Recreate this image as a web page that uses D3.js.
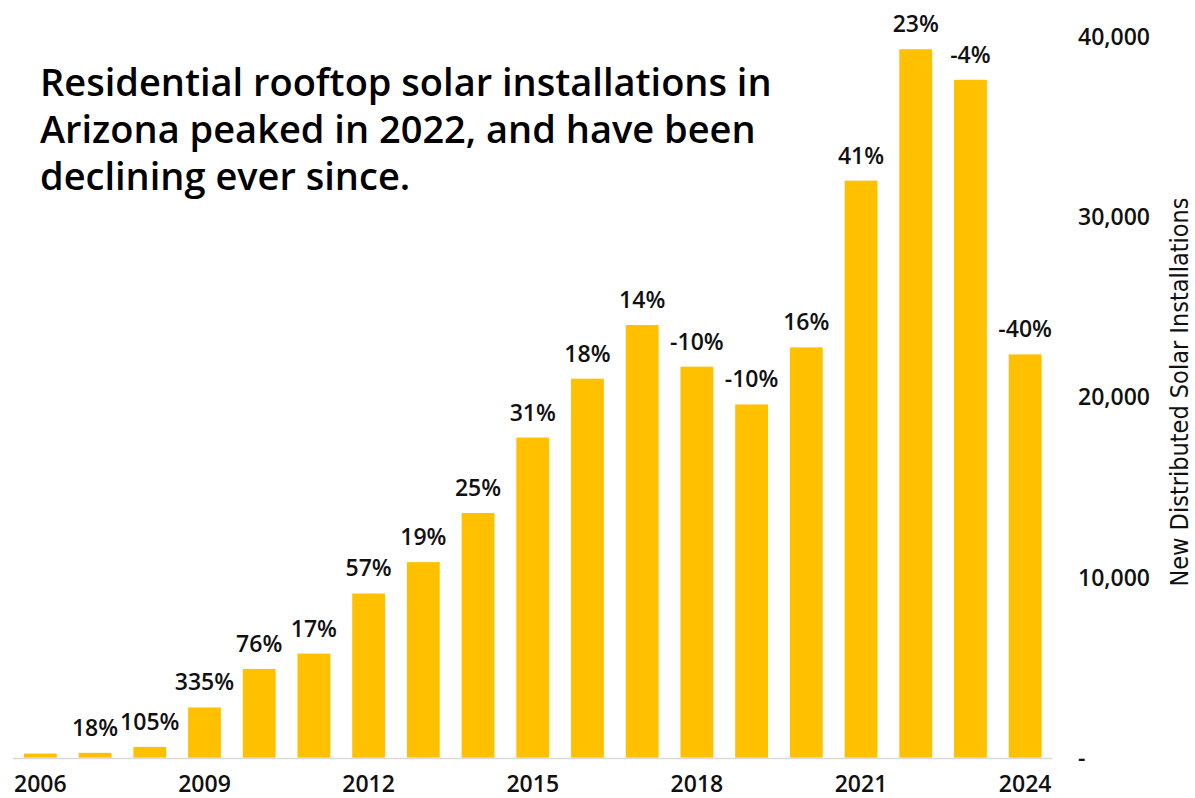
<!DOCTYPE html>
<html>
<head>
<meta charset="utf-8">
<script src="https://cdn.jsdelivr.net/npm/d3@7"></script>
<style>
  html, body { margin: 0; padding: 0; background: #fff; }
  svg { display: block; }
</style>
</head>
<body>
<svg id="chart" width="1195" height="798"></svg>
<script>
// New distributed (residential rooftop) solar installations in Arizona, by year
const years = [2006, 2007, 2008, 2009, 2010, 2011, 2012, 2013, 2014, 2015,
               2016, 2017, 2018, 2019, 2020, 2021, 2022, 2023, 2024];
const installs = [230, 270, 600, 2790, 4930, 5780, 9120, 10860, 13590, 17780,
                  21050, 24030, 21720, 19620, 22790, 32050, 39350, 37650, 22400];
// Year-over-year change shown above each bar (none for the first year)
const growthLabels = ["", "18%", "105%", "335%", "76%", "17%", "57%", "19%", "25%", "31%",
                      "18%", "14%", "-10%", "-10%", "16%", "41%", "23%", "-4%", "-40%"];
const yTicks = [0, 10000, 20000, 30000, 40000];
const yearTicks = [2006, 2009, 2012, 2015, 2018, 2021, 2024];
const titleLines = [
  "Residential rooftop solar installations in",
  "Arizona peaked in 2022, and have been",
  "declining ever since."
];
const yTitle = "New Distributed Solar Installations";

const svg = d3.select("#chart");
const labelFont = "'Open Sans', 'Liberation Sans', Arial, sans-serif";

const x = d3.scaleBand()
  .domain(years)
  .range([13, 1052.5])
  .paddingInner(0.4)
  .paddingOuter(0.2);

const y = d3.scaleLinear()
  .domain([0, 40000])
  .range([757.7, 37.5]);

// Bars
svg.append("g")
  .selectAll("rect")
  .data(years)
  .join("rect")
  .attr("x", d => x(d))
  .attr("y", (d, i) => y(installs[i]))
  .attr("width", x.bandwidth())
  .attr("height", (d, i) => y(0) - y(installs[i]))
  .attr("fill", "#FFC000");

// Baseline
svg.append("line")
  .attr("x1", 13).attr("x2", 1052.5)
  .attr("y1", y(0) + 0.8).attr("y2", y(0) + 0.8)
  .attr("stroke", "#d9d9d9")
  .attr("stroke-width", 1.6);

// Growth labels above bars
svg.append("g")
  .selectAll("text")
  .data(years)
  .join("text")
  .attr("x", d => x(d) + x.bandwidth() / 2)
  .attr("y", (d, i) => y(installs[i]) - 17)
  .attr("text-anchor", "middle")
  .attr("font-family", labelFont)
  .attr("font-weight", 600)
  .attr("font-size", 23)
  .attr("fill", "#111")
  .text((d, i) => growthLabels[i]);

// Bottom year axis (every third year)
const xAxis = d3.axisBottom(x)
  .tickValues(yearTicks)
  .tickSize(0)
  .tickPadding(0);
const gx = svg.append("g")
  .attr("transform", `translate(0, ${y(0) + 34.5})`)
  .call(xAxis);
gx.select(".domain").remove();
gx.selectAll("text")
  .attr("font-family", labelFont)
  .attr("font-weight", 600)
  .attr("font-size", 23)
  .attr("fill", "#111")
  .attr("dy", "0");

// Right value axis
const yAxis = d3.axisRight(y)
  .tickValues(yTicks)
  .tickSize(0)
  .tickPadding(0)
  .tickFormat(d => d === 0 ? "-" : d3.format(",")(d));
const gy = svg.append("g")
  .attr("transform", "translate(1078, 0)")
  .call(yAxis);
gy.select(".domain").remove();
gy.selectAll("text")
  .attr("font-family", labelFont)
  .attr("font-weight", 600)
  .attr("font-size", 23)
  .attr("fill", "#111");

// Axis title
svg.append("text")
  .attr("transform", "translate(1188, 392) rotate(-90)")
  .attr("text-anchor", "middle")
  .attr("font-family", "'Liberation Sans Narrow', 'DejaVu Sans Condensed', sans-serif")
  .attr("font-stretch", "condensed")
  .attr("font-size", 25)
  .attr("fill", "#111")
  .text(yTitle);

// Chart title
svg.append("g")
  .selectAll("text")
  .data(titleLines)
  .join("text")
  .attr("x", 40)
  .attr("y", (d, i) => 96 + i * 47)
  .attr("font-family", labelFont)
  .attr("font-weight", 600)
  .attr("font-size", 38)
  .attr("fill", "#000")
  .text(d => d);
</script>
</body>
</html>
